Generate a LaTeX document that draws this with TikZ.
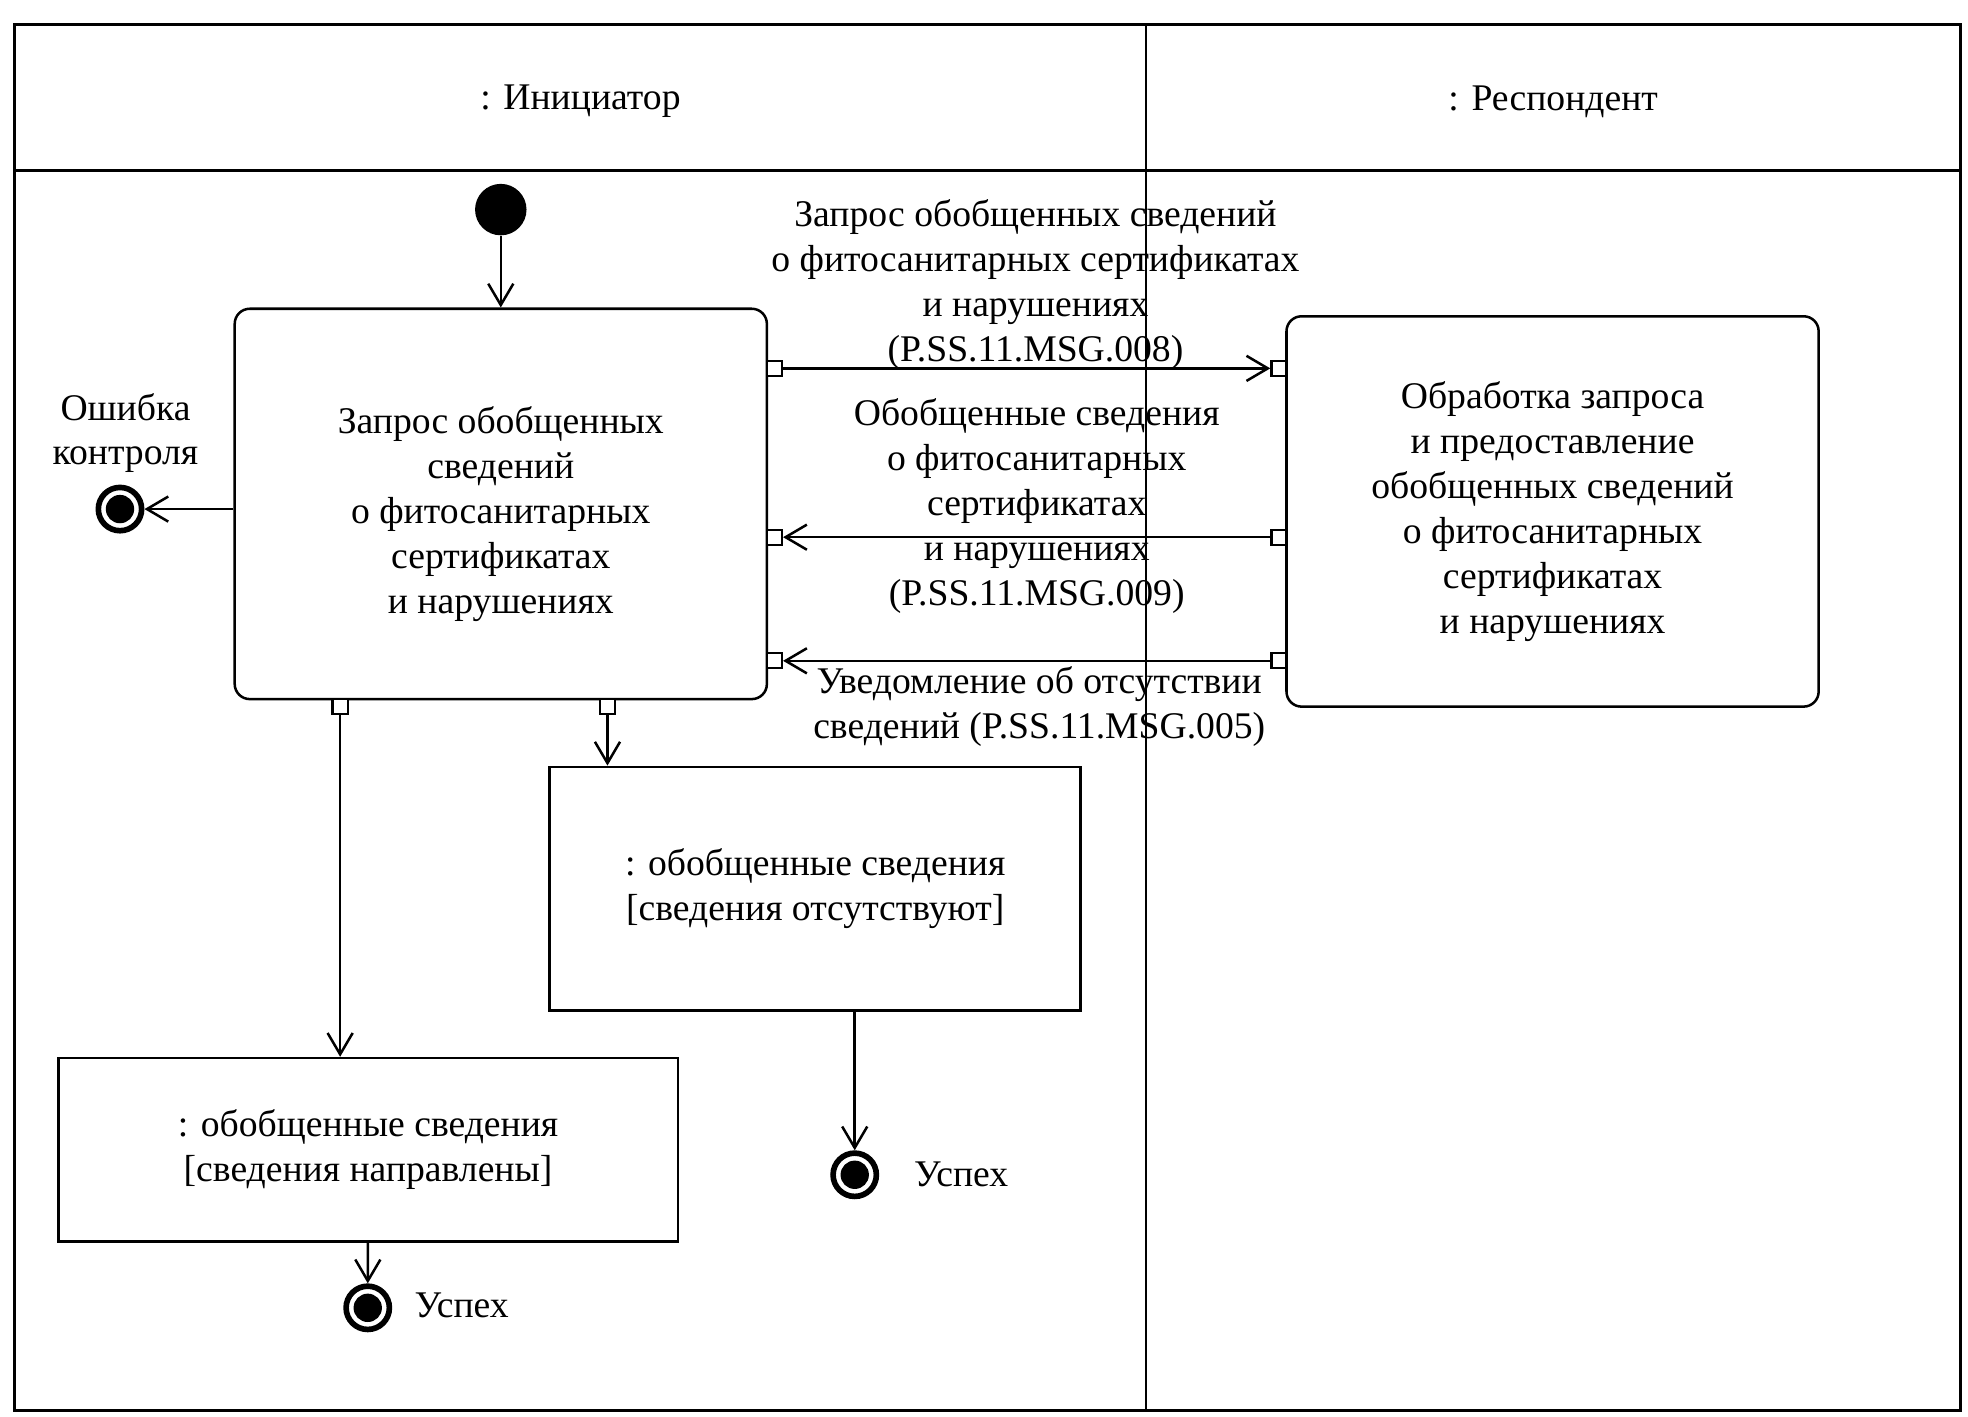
\documentclass[tikz,border=0pt]{standalone}
\usepackage{fontspec}
\setmainfont{Liberation Serif}
\usepackage{tikz}
\usetikzlibrary{arrows.meta,shapes}
\tikzset{txt/.style={inner sep=1pt,align=center,font=\fontsize{15pt}{17.9pt}\selectfont},
  act/.style={txt,draw,line width=1pt,rounded corners=6pt,minimum width=212pt,minimum height=155.5pt},
  obj/.style={txt,draw,line width=1pt},
  port/.style={draw,fill=white,line width=0.9pt,inner sep=0pt,minimum size=6pt},
  ini/.style={circle,fill,inner sep=0pt,minimum size=20.5pt},
  fin/.style={circle,draw,line width=2.25pt,inner sep=0pt,minimum size=17.25pt,
    path picture={\fill (path picture bounding box.center) circle (5.65pt);}},
  arr/.style={line width=1pt,-{Straight Barb[length=8.5pt,width=10pt,line width=1pt]}}}

\begin{document}
\begin{tikzpicture}[x=0.5pt,y=-0.5pt]
  \useasboundingbox (0,0) rectangle (1568,1128.2);
  % swimlanes
  \draw[line width=1.1pt] (11.5,19.5) rectangle (1562,1123.5) (11.5,136) -- (1562,136) (913,19.5) -- (913,1123.5);
  \node[txt] (h1) at (462.5,81) {: Инициатор};
  \node[txt] (h2) at (1237.5,81) {: Респондент};
  % actions and objects
  \node[ini] (s0) at (399,167) {};
  \node[act] (a1) at (399,401.5) {\rule{0pt}{19pt}Запрос обобщенных\\сведений\\о фитосанитарных\\сертификатах\\и нарушениях};
  \node[act] (a2) at (1237,407.5) {Обработка запроса\\и предоставление\\обобщенных сведений\\о фитосанитарных\\сертификатах\\и нарушениях};
  \node[obj,minimum width=211.5pt,minimum height=97pt] (o1) at (649.5,708) {: обобщенные сведения\\{[}сведения отсутствуют{]}};
  \node[obj,minimum width=246.75pt,minimum height=73pt] (o2) at (293.25,916) {: обобщенные сведения\\{[}сведения направлены{]}};
  \node[fin] (f0) at (95.6,405.6) {};\node[fin] (f1) at (681,936) {};\node[fin] (f2) at (293,1042) {};
  \node[txt] (l0) at (100,345) {Ошибка\\контроля};
  \node[txt,anchor=west] (l1) at (726,936) {Успех};
  \node[txt,anchor=west] (l2) at (328,1040) {Успех};
  % pins
  \node[port] (p1) at (617,293.5) {};\node[port] (p2) at (1019,293.5) {};
  \node[port] (p3) at (1019,428) {};\node[port] (p4) at (617,428) {};
  \node[port] (p5) at (1019,526.5) {};\node[port] (p6) at (617,526.5) {};
  \node[port] (p7) at (271,563) {};\node[port] (p8) at (484,563) {};
  % messages
  \node[txt] (m1) at (825,227) {Запрос обобщенных сведений\\о фитосанитарных сертификатах\\и нарушениях\\(P.SS.11.MSG.008)};
  \node[txt] (m2) at (826,403) {Обобщенные сведения\\о фитосанитарных\\сертификатах\\и нарушениях\\(P.SS.11.MSG.009)};
  \node[txt] (m3) at (828,563) {Уведомление об отсутствии\\сведений (P.SS.11.MSG.005)};
  \path[arr] (s0) edge (a1) (a1.west |- f0) edge (f0)
  (p1) edge (p2) (p3) edge (p4) (p5) edge (p6)
  (p7) edge (p7 |- o2.north) (p8) edge (p8 |- o1.north)
  (o1.south -| f1) edge (f1) (o2) edge (f2);
\end{tikzpicture}
\end{document}
